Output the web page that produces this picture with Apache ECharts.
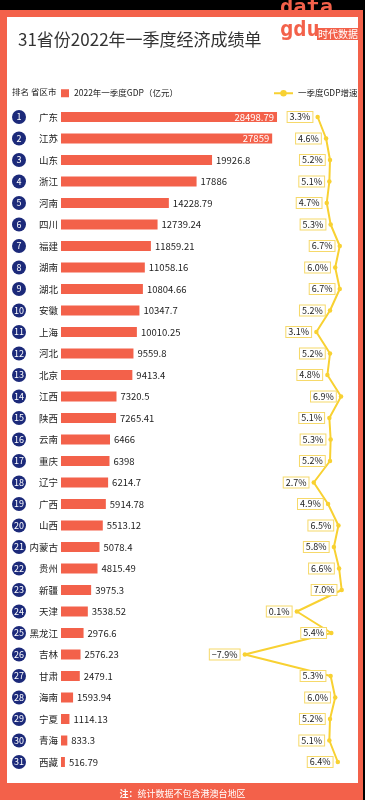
<!DOCTYPE html>
<html>
<head>
<meta charset="utf-8">
<script src="https://cdn.jsdelivr.net/npm/echarts@6/dist/echarts.min.js"></script>
<style>
html,body{margin:0;padding:0;background:#000;}
#chart{width:365px;height:800px;}
</style>
</head>
<body>
<div id="chart"></div>
<script>
const ranks = [1,2,3,4,5,6,7,8,9,10,11,12,13,14,15,16,17,18,19,20,21,22,23,24,25,26,27,28,29,30,31];
const provinces = ['广东','江苏','山东','浙江','河南','四川','福建','湖南','湖北','安徽','上海','河北','北京','江西','陕西','云南','重庆','辽宁','广西','山西','内蒙古','贵州','新疆','天津','黑龙江','吉林','甘肃','海南','宁夏','青海','西藏'];
const gdp = [28498.79,27859,19926.8,17886,14228.79,12739.24,11859.21,11058.16,10804.66,10347.7,10010.25,9559.8,9413.4,7320.5,7265.41,6466,6398,6214.7,5914.78,5513.12,5078.4,4815.49,3975.3,3538.52,2976.6,2576.23,2479.1,1593.94,1114.13,833.3,516.79];
const growth = [3.3,4.6,5.2,5.1,4.7,5.3,6.7,6.0,6.7,5.2,3.1,5.2,4.8,6.9,5.1,5.3,5.2,2.7,4.9,6.5,5.8,6.6,7.0,0.1,5.4,-7.9,5.3,6.0,5.2,5.1,6.4];
const titleText = '31省份2022年一季度经济成绩单';
const gdpName = '2022年一季度GDP（亿元）';
const growthName = '一季度GDP增速';
const noteText = '统计数据不包含港澳台地区';

const FONT = '"Noto Sans CJK SC", "Noto Sans", sans-serif';
const ORANGE = '#F3614A';
const NAVY = '#1C2A7A';
const YELLOW = '#F8D132';

const TOP = 106.25, H = 666.5;
const chart = echarts.init(document.getElementById('chart'), null, {renderer: 'canvas'});

const catAxis = (idx, data, show) => ({
  type: 'category', gridIndex: idx, data: data, inverse: true,
  axisLine: {show: false}, axisTick: {show: false}, splitLine: {show: false},
  axisLabel: show ? {show: true, fontSize: 9.5, color: '#222', margin: 3, fontFamily: FONT} : {show: false}
});

chart.setOption({
  backgroundColor: '#000',
  textStyle: {fontFamily: FONT},
  animation: false,
  title: {
    text: titleText, left: 13, top: 26,
    textStyle: {fontSize: 17, fontWeight: 'normal', color: '#333', fontFamily: FONT}
  },
  legend: [
    {
      data: [gdpName], left: 61, top: 89, padding: 0, icon: 'rect', itemWidth: 8, itemHeight: 8,
      textStyle: {fontSize: 8.5, color: '#222', fontFamily: FONT}
    },
    {
      data: [growthName], left: 273, top: 89, padding: 0, itemWidth: 19, itemHeight: 8,
      lineStyle: {type: 'dashed', width: 2},
      textStyle: {fontSize: 8.5, color: '#222', fontFamily: FONT}
    }
  ],
  graphic: [
    {type: 'rect', shape: {x: 0, y: 10, width: 363, height: 790}, style: {fill: ORANGE}, z: -10},
    {type: 'rect', shape: {x: 7, y: 17, width: 351, height: 766}, style: {fill: '#fff'}, z: -9},
    {type: 'text', left: 12, top: 88, style: {text: '排名 省区市', fontSize: 8.5, fill: '#222', fontFamily: FONT}},
    {type: 'text', x: 280, y: -3, style: {text: 'data', fontSize: 22, fontWeight: 'bold', fill: ORANGE, fontFamily: '"DejaVu Sans Mono", monospace'}},
    {type: 'text', x: 280, y: 19, style: {text: 'gdu', fontSize: 22, fontWeight: 'bold', fill: ORANGE, fontFamily: '"DejaVu Sans Mono", monospace'}},
    {type: 'rect', shape: {x: 317, y: 28, width: 43, height: 12}, style: {fill: ORANGE}},
    {type: 'text', x: 318, y: 29, style: {text: '时代数据', fontSize: 10, fill: '#fff', fontFamily: FONT}},
    {type: 'text', left: 'center', top: 789, style: {
      text: '{b|注：}{n|' + noteText + '}',
      rich: {b: {fontSize: 9, fontWeight: 'bold', fill: '#fff', fontFamily: FONT}, n: {fontSize: 9, fill: '#fff', fontFamily: FONT}}
    }}
  ],
  grid: [
    {left: 12, width: 14, top: TOP, height: H},
    {left: 61, width: 227.4, top: TOP, height: H},
    {left: 231.2, width: 117, top: TOP, height: H}
  ],
  xAxis: [
    {type: 'value', gridIndex: 0, min: 0, max: 1, show: false},
    {type: 'value', gridIndex: 1, min: 0, max: 30000, show: false},
    {type: 'value', gridIndex: 2, min: -10, max: 8, show: false}
  ],
  yAxis: [
    catAxis(0, ranks, false),
    catAxis(1, provinces, true),
    catAxis(2, provinces, false)
  ],
  series: [
    {
      type: 'scatter', xAxisIndex: 0, yAxisIndex: 0,
      data: ranks.map(r => [0.5, String(r)]),
      symbol: 'circle', symbolSize: 14,
      itemStyle: {color: NAVY, opacity: 1},
      label: {show: true, position: 'inside', color: '#fff', fontSize: 9, fontFamily: FONT,
        formatter: p => p.value[1]},
      silent: true
    },
    {
      name: gdpName, type: 'bar', xAxisIndex: 1, yAxisIndex: 1,
      barWidth: 10,
      itemStyle: {color: ORANGE},
      data: gdp.map(v => v > 25000 ? {value: v, label: {position: 'insideRight', color: '#fff', distance: 3}} : v),
      label: {show: true, position: 'right', distance: 4, fontSize: 9.5, color: '#222', fontFamily: FONT}
    },
    {
      name: growthName, type: 'line', xAxisIndex: 2, yAxisIndex: 2,
      data: growth.map((v, i) => [v, provinces[i]]),
      symbol: 'circle', symbolSize: 4.5, showAllSymbol: true,
      lineStyle: {color: YELLOW, width: 2},
      itemStyle: {color: YELLOW},
      z: 5,
      label: {
        show: true, position: 'left', distance: 3,
        formatter: p => (p.value[0] < 0 ? '−' : '') + Math.abs(p.value[0]).toFixed(1) + '%',
        fontSize: 9, color: '#222', fontFamily: FONT,
        backgroundColor: '#fff', borderColor: '#F6D96A', borderWidth: 1, padding: [1, 2, 0, 2]
      }
    }
  ]
});
</script>
</body>
</html>
